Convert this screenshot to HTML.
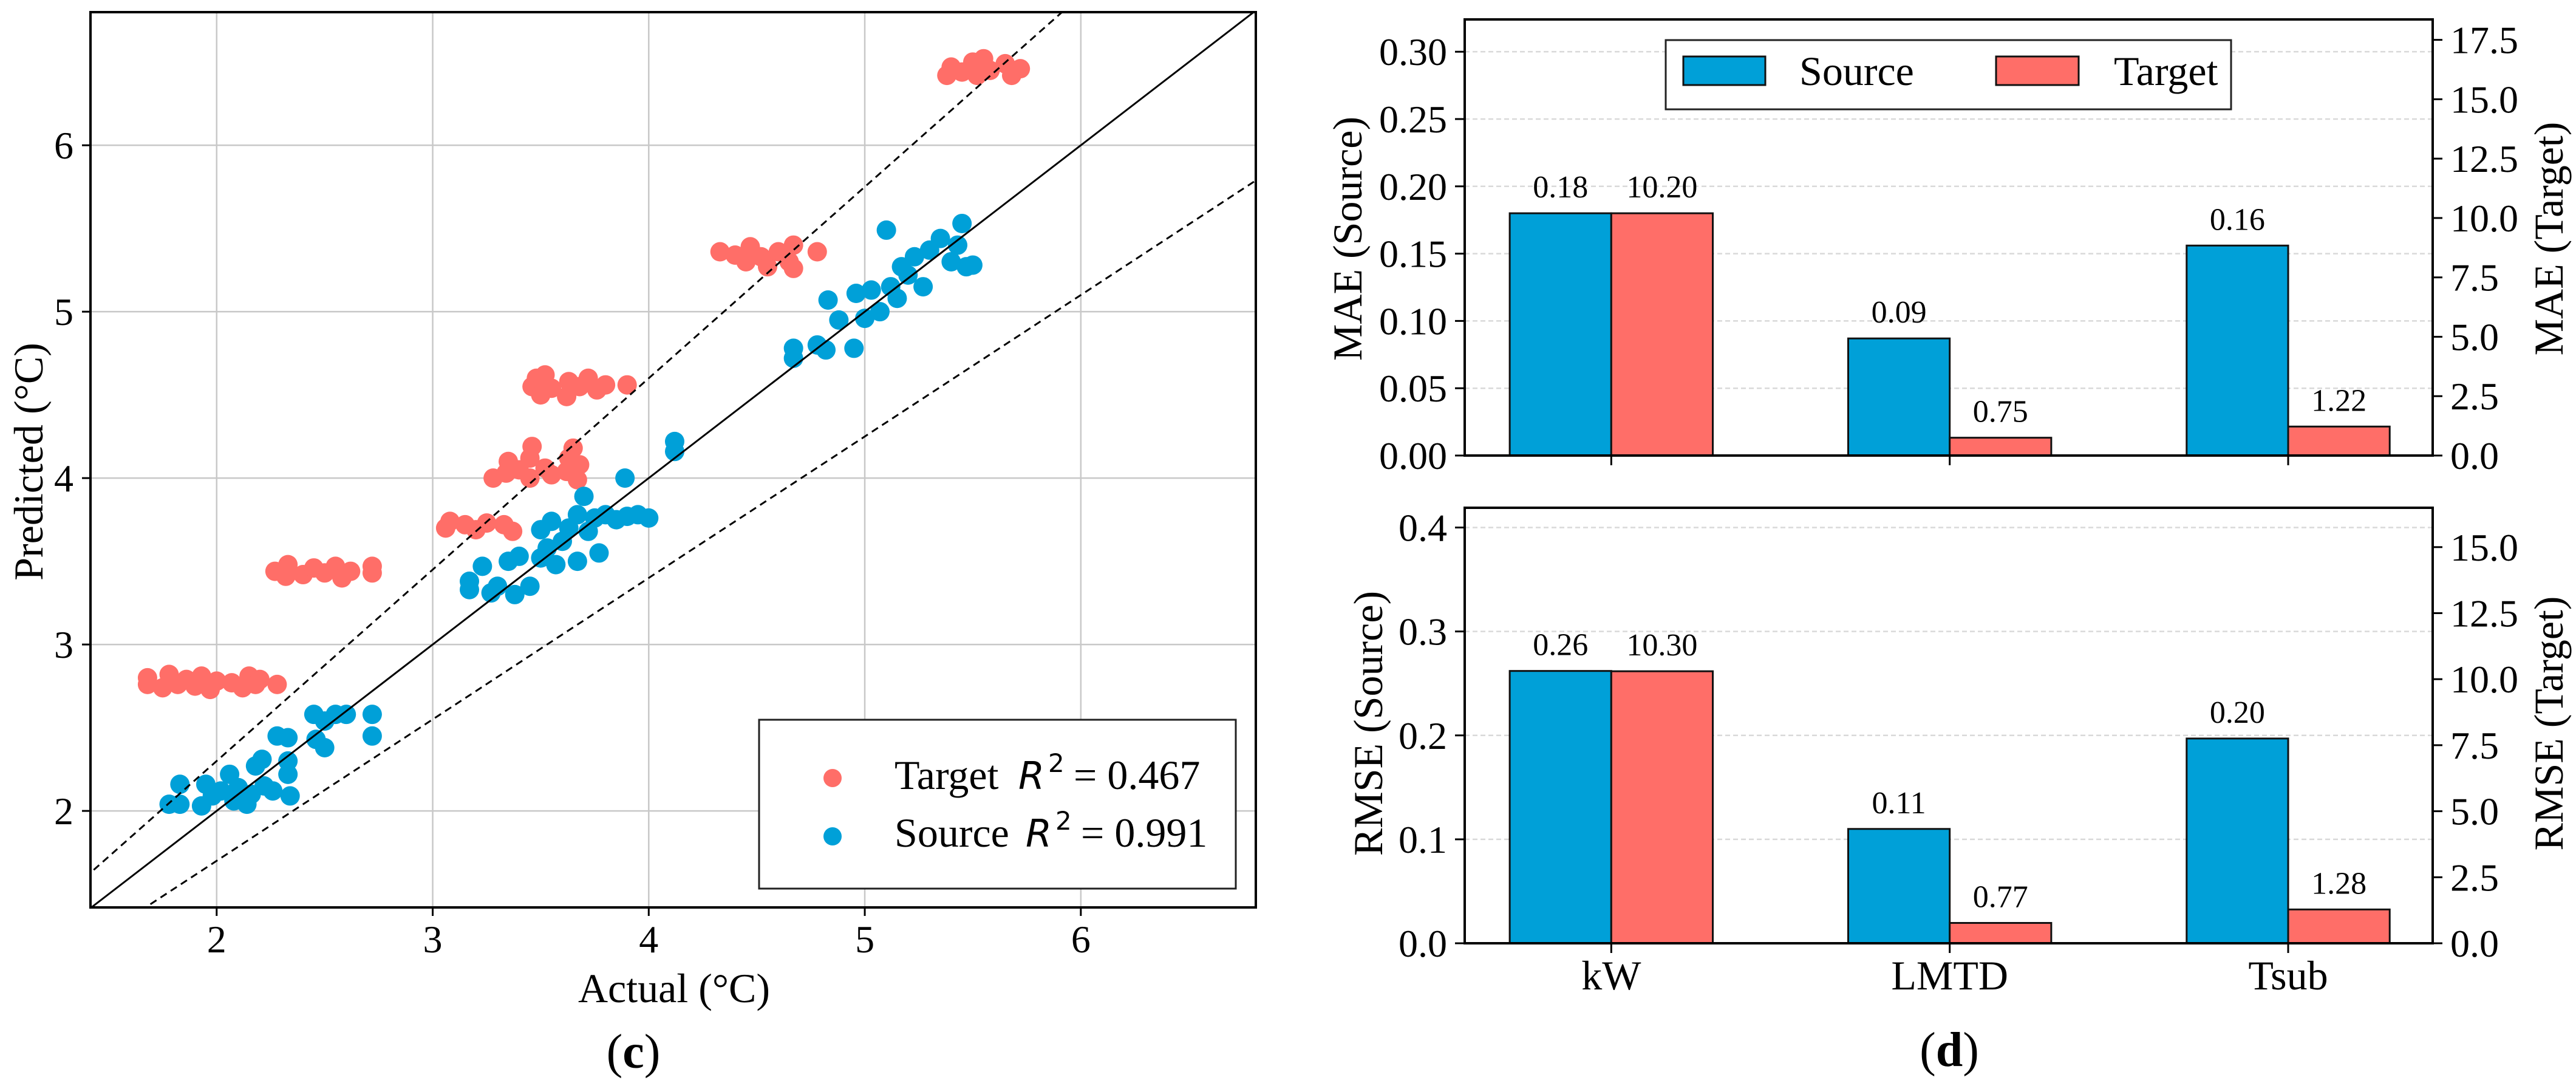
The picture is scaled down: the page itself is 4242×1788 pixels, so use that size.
<!DOCTYPE html>
<html><head><meta charset="utf-8">
<style>
html,body{margin:0;padding:0;background:#fff;width:4242px;height:1788px;overflow:hidden;}
svg{display:block;}
text{font-family:"Liberation Serif",serif;fill:#000;}
.it{font-family:"DejaVu Sans",sans-serif;font-style:italic;}
</style></head>
<body>
<svg id="fig" width="4242" height="1788" viewBox="0 0 4242 1788" xmlns="http://www.w3.org/2000/svg">
  <g id="scatter"></g>
  <g id="bars"></g>
</svg>
<script>
// ---------- Scatter (c) data ----------
const targetX = [1.68,1.68,1.75,1.78,1.82,1.86,1.90,1.93,1.97,2.00,2.07,2.12,2.15,2.18,2.20,2.28,
 2.27,2.32,2.33,2.40,2.45,2.50,2.55,2.58,2.62,2.72,2.72,
 3.06,3.08,3.15,3.20,3.25,3.33,3.37,
 3.28,3.34,3.35,3.40,3.45,3.45,3.46,3.52,3.55,3.62,3.63,3.65,3.67,3.68,
 3.46,3.48,3.50,3.52,3.55,3.62,3.63,3.68,3.72,3.76,3.80,3.90,
 4.33,4.40,4.45,4.47,4.52,4.55,4.60,4.65,4.67,4.67,4.78,
 5.38,5.40,5.45,5.50,5.52,5.55,5.58,5.65,5.68,5.72];
const targetY = [2.76,2.80,2.74,2.82,2.76,2.79,2.75,2.81,2.73,2.78,2.77,2.74,2.81,2.76,2.79,2.76,
 3.44,3.41,3.48,3.42,3.46,3.43,3.47,3.40,3.44,3.47,3.43,
 3.70,3.74,3.72,3.69,3.73,3.72,3.68,
 4.00,4.03,4.10,4.05,4.00,4.12,4.19,4.06,4.02,4.04,4.12,4.18,3.99,4.08,
 4.55,4.60,4.50,4.62,4.54,4.49,4.58,4.55,4.60,4.53,4.56,4.56,
 5.36,5.34,5.30,5.39,5.33,5.27,5.36,5.30,5.40,5.26,5.36,
 6.42,6.47,6.44,6.50,6.42,6.52,6.45,6.49,6.42,6.46];
const sourceX = [1.78,1.83,1.83,1.93,1.95,1.98,2.02,2.06,2.08,2.10,2.14,2.16,2.18,2.21,2.22,2.26,2.28,2.33,2.33,2.33,2.34,2.45,2.46,2.50,2.50,2.55,2.60,2.72,2.72,
 3.17,3.17,3.23,3.27,3.30,3.35,3.38,3.40,3.45,3.50,3.50,3.53,3.55,3.57,3.60,3.63,3.67,3.67,3.70,3.72,3.75,3.77,3.80,3.85,3.89,3.90,3.95,4.00,4.12,4.12,
 4.67,4.67,4.78,4.82,4.83,4.88,4.95,4.96,5.00,5.03,5.07,5.10,5.12,5.15,5.17,5.20,5.23,5.27,5.30,5.35,5.40,5.43,5.45,5.47,5.50];
const sourceY = [2.04,2.04,2.16,2.03,2.16,2.09,2.12,2.22,2.06,2.14,2.04,2.10,2.27,2.31,2.15,2.12,2.45,2.44,2.30,2.22,2.09,2.58,2.43,2.38,2.54,2.58,2.58,2.58,2.45,
 3.33,3.38,3.47,3.31,3.35,3.50,3.30,3.53,3.35,3.69,3.52,3.58,3.74,3.48,3.62,3.70,3.78,3.50,3.89,3.68,3.76,3.55,3.78,3.75,4.00,3.77,3.78,3.76,4.22,4.16,
 4.72,4.78,4.80,4.77,5.07,4.95,4.78,5.11,4.96,5.13,5.00,5.49,5.15,5.08,5.27,5.22,5.33,5.15,5.37,5.44,5.30,5.40,5.53,5.27,5.28];
const scatterTicks = [2,3,4,5,6];
const scatterTickLabels = ["2","3","4","5","6"];
const r2Labels = ["0.467","0.991"];

// ---------- Bar (d) data ----------
const categories = ["kW","LMTD","Tsub"];
const maeSource = [0.18,0.087,0.156];
const maeTarget = [10.20,0.75,1.22];
const maeSourceLabels = ["0.18","0.09","0.16"];
const maeTargetLabels = ["10.20","0.75","1.22"];
const rmseSource = [0.262,0.11,0.197];
const rmseTarget = [10.30,0.77,1.28];
const rmseSourceLabels = ["0.26","0.11","0.20"];
const rmseTargetLabels = ["10.30","0.77","1.28"];
const maeLeftTicks = [0,0.05,0.10,0.15,0.20,0.25,0.30];
const maeLeftTickLabels = ["0.00","0.05","0.10","0.15","0.20","0.25","0.30"];
const maeRightTicks = [0,2.5,5,7.5,10,12.5,15,17.5];
const maeRightTickLabels = ["0.0","2.5","5.0","7.5","10.0","12.5","15.0","17.5"];
const rmseLeftTicks = [0,0.1,0.2,0.3,0.4];
const rmseLeftTickLabels = ["0.0","0.1","0.2","0.3","0.4"];
const rmseRightTicks = [0,2.5,5,7.5,10,12.5,15];
const rmseRightTickLabels = ["0.0","2.5","5.0","7.5","10.0","12.5","15.0"];

const NS = "http://www.w3.org/2000/svg";
function mk(tag, attrs, parent, txt){
  const e = document.createElementNS(NS, tag);
  for (const k in attrs) e.setAttribute(k, attrs[k]);
  if (txt !== undefined) e.textContent = txt;
  parent.appendChild(e);
  return e;
}
const BLUE = "#00a0d8", RED = "#ff6e68";

// ================= Scatter =================
(function(){
  const g = document.getElementById('scatter');
  const L=149, R=2068, T=20, B=1494;
  const x0=1.416, x1=6.81, y0=1.42, y1=6.80;
  const sx = v => L + (v-x0)/(x1-x0)*(R-L);
  const sy = v => B - (v-y0)/(y1-y0)*(B-T);
  mk('defs',{},g).innerHTML = '<clipPath id="sc"><rect x="'+L+'" y="'+T+'" width="'+(R-L)+'" height="'+(B-T)+'"/></clipPath>';
  scatterTicks.forEach((t,i)=>{
    let gl = mk('line',{x1:sx(t),x2:sx(t),y1:T,y2:B,stroke:'#c8c8c8','stroke-width':2.5},g);
    
    
    let gh = mk('line',{x1:L,x2:R,y1:sy(t),y2:sy(t),stroke:'#c8c8c8','stroke-width':2.5},g);
    
    
    mk('line',{x1:sx(t),x2:sx(t),y1:B,y2:B+14,stroke:'#000','stroke-width':3},g);
    mk('line',{x1:L-14,x2:L,y1:sy(t),y2:sy(t),stroke:'#000','stroke-width':3},g);
    let xl = mk('text',{x:sx(t),y:1568,'font-size':64,'text-anchor':'middle'},g,scatterTickLabels[i]);
    
    
    let yl = mk('text',{x:121,y:sy(t)+22,'font-size':64,'text-anchor':'end'},g,scatterTickLabels[i]);
    
    
  });
  const cg = mk('g',{'clip-path':'url(#sc)'},g);
  targetX.forEach((v,i)=>{
    const c = mk('circle',{cx:sx(v),cy:sy(targetY[i]),r:16,fill:RED},cg);
    
    
  });
  sourceX.forEach((v,i)=>{
    const c = mk('circle',{cx:sx(v),cy:sy(sourceY[i]),r:16,fill:BLUE},cg);
    
    
  });
  const a=0, b=8;
  let l1 = mk('line',{x1:sx(a),y1:sy(a),x2:sx(b),y2:sy(b),stroke:'#000','stroke-width':3},cg);
  
  
  let l2 = mk('line',{x1:sx(a),y1:sy(a*1.15),x2:sx(b),y2:sy(b*1.15),stroke:'#000','stroke-width':3,'stroke-dasharray':'12 8'},cg);
  
  
  let l3 = mk('line',{x1:sx(a),y1:sy(a*0.85),x2:sx(b),y2:sy(b*0.85),stroke:'#000','stroke-width':3,'stroke-dasharray':'12 8'},cg);
  
  
  let fr = mk('rect',{x:L,y:T,width:R-L,height:B-T,fill:'none',stroke:'#000','stroke-width':4},g);
  
  
  // legend
  const lg = mk('g',{},g);
  
  
  mk('rect',{x:1250,y:1185,width:785,height:278,fill:'#fff',stroke:'#222','stroke-width':3},lg);
  mk('circle',{cx:1371,cy:1281,r:15,fill:RED},lg);
  mk('circle',{cx:1371,cy:1377,r:15,fill:BLUE},lg);
  const t1 = mk('text',{x:1473,y:1299,'font-size':68},lg);
  t1.innerHTML = 'Target<tspan class="it" font-size="62" x="1677">R</tspan><tspan font-family="DejaVu Sans" font-size="42" x="1726" dy="-28">2</tspan><tspan x="1768" dy="28">= '+r2Labels[0]+'</tspan>';
  const t2 = mk('text',{x:1473,y:1394,'font-size':68},lg);
  t2.innerHTML = 'Source<tspan class="it" font-size="62" x="1689">R</tspan><tspan font-family="DejaVu Sans" font-size="42" x="1738" dy="-28">2</tspan><tspan x="1780" dy="28">= '+r2Labels[1]+'</tspan>';
  let xt = mk('text',{x:1110,y:1650,'font-size':68,'text-anchor':'middle'},g,'Actual (°C)');
  
  
  let yt = mk('text',{x:0,y:0,'font-size':68,'text-anchor':'middle',transform:'translate(70,760) rotate(-90)'},g,'Predicted (°C)');
  
  
  let cap = mk('text',{x:1043,y:1758,'font-size':80,'text-anchor':'middle'},g);
  cap.innerHTML = '(<tspan font-weight="bold">c</tspan>)';
  
  
})();

// ================= Bars =================
function barPanel(o){
  const g = mk('g',{},document.getElementById('bars'));
  
  
  const L=2412, R=4006, T=o.T, B=o.B;
  const cx0=-0.433, cx1=2.427;
  const sx = v => L + (v-cx0)/(cx1-cx0)*(R-L);
  const syL = v => B - v/o.lmax*(B-T);
  const syR = v => B - v/o.rmax*(B-T);
  const bw = 0.3/(cx1-cx0)*(R-L);
  o.lt.forEach((t,i)=>{
    if (t>0){
      let gl = mk('line',{x1:L,x2:R,y1:syL(t),y2:syL(t),stroke:'#d9d9d9','stroke-width':2.5,'stroke-dasharray':'8 5'},g);
      
      
    }
    mk('line',{x1:L-16,x2:L,y1:syL(t),y2:syL(t),stroke:'#000','stroke-width':3},g);
    let tl = mk('text',{x:2383,y:syL(t)+22,'font-size':64,'text-anchor':'end'},g,o.ltl[i]);
    
    
  });
  o.rt.forEach((t,i)=>{
    mk('line',{x1:R,x2:R+16,y1:syR(t),y2:syR(t),stroke:'#000','stroke-width':3},g);
    let tl = mk('text',{x:4035,y:syR(t)+22,'font-size':64},g,o.rtl[i]);
    
    
  });
  categories.forEach((c,i)=>{
    const xc = sx(i);
    let b1 = mk('rect',{x:xc-bw,y:syL(o.s[i]),width:bw,height:B-syL(o.s[i]),fill:BLUE,stroke:'#111','stroke-width':3},g);
    
    
    let b2 = mk('rect',{x:xc,y:syR(o.t[i]),width:bw,height:B-syR(o.t[i]),fill:RED,stroke:'#111','stroke-width':3},g);
    
    
    let v1 = mk('text',{x:xc-bw/2,y:syL(o.s[i])-26,'font-size':52,'text-anchor':'middle'},g,o.sl[i]);
    
    
    let v2 = mk('text',{x:xc+bw/2,y:syR(o.t[i])-26,'font-size':52,'text-anchor':'middle'},g,o.tl[i]);
    
    
    mk('line',{x1:xc,x2:xc,y1:B,y2:B+16,stroke:'#000','stroke-width':3},g);
    if (o.showX){
      let cl = mk('text',{x:xc,y:1629,'font-size':68,'text-anchor':'middle'},g,c);
      
      
    }
  });
  mk('rect',{x:L,y:T,width:R-L,height:B-T,fill:'none',stroke:'#000','stroke-width':4},g);
  let ly = mk('text',{x:0,y:0,'font-size':68,'text-anchor':'middle',transform:'translate('+o.lyx+','+o.ly+') rotate(-90)'},g,o.ltitle);
  
  
  let ry = mk('text',{x:0,y:0,'font-size':68,'text-anchor':'middle',transform:'translate(4220,'+o.ly+') rotate(-90)'},g,o.rtitle);
  
  
}
barPanel({name:'mae-panel',T:32,B:750,lmax:0.324,rmax:18.36,s:maeSource,t:maeTarget,sl:maeSourceLabels,tl:maeTargetLabels,
  lt:maeLeftTicks,ltl:maeLeftTickLabels,rt:maeRightTicks,rtl:maeRightTickLabels,ltitle:'MAE (Source)',rtitle:'MAE (Target)',lyx:2242,ly:393,showX:false});
barPanel({name:'rmse-panel',T:836,B:1553,lmax:0.419,rmax:16.49,s:rmseSource,t:rmseTarget,sl:rmseSourceLabels,tl:rmseTargetLabels,
  lt:rmseLeftTicks,ltl:rmseLeftTickLabels,rt:rmseRightTicks,rtl:rmseRightTickLabels,ltitle:'RMSE (Source)',rtitle:'RMSE (Target)',lyx:2276,ly:1191,showX:true});
(function(){
  const g = document.getElementById('bars');
  const lg = mk('g',{},g);
  
  
  mk('rect',{x:2743,y:66,width:931,height:114,fill:'#fff',stroke:'#222','stroke-width':3},lg);
  mk('rect',{x:2772,y:93,width:135,height:47,fill:BLUE,stroke:'#111','stroke-width':3},lg);
  mk('text',{x:2963,y:140,'font-size':68},lg,'Source');
  mk('rect',{x:3287,y:93,width:136,height:47,fill:RED,stroke:'#111','stroke-width':3},lg);
  mk('text',{x:3481,y:140,'font-size':68},lg,'Target');
  let cap = mk('text',{x:3210,y:1755,'font-size':80,'text-anchor':'middle'},g);
  cap.innerHTML = '(<tspan font-weight="bold">d</tspan>)';
  
  
})();
</script>
</body></html>
